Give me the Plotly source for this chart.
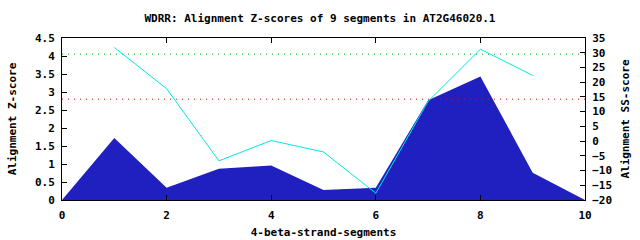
import plotly.graph_objects as go

x_seg = [0, 1, 2, 3, 4, 5, 6, 7, 8, 9, 10]
z_scores = [0, 1.72, 0.34, 0.87, 0.96, 0.28, 0.34, 2.77, 3.43, 0.76, 0]
x_ss = [1, 2, 3, 4, 5, 6, 7, 8, 9]
ss_scores = [31.8, 17.8, -6.7, 0.2, -3.7, -17.7, 13.5, 31.2, 22.3]
green_z = 4.05
red_z = 2.8
x_range = [0, 10]

FONT = "DejaVu Sans Mono"
fnt = dict(family=FONT, size=11, color="black", weight="bold")

fig = go.Figure()
fig.add_trace(go.Scatter(x=x_seg, y=z_scores, mode="lines", fill="tozeroy",
                         fillcolor="#2020C0", line=dict(width=0, color="#2020C0"),
                         showlegend=False, hoverinfo="skip"))
fig.add_trace(go.Scatter(x=x_range, y=[green_z, green_z], mode="lines",
                         line=dict(color="#00B000", width=1, dash="1px,5px"),
                         showlegend=False))
fig.add_trace(go.Scatter(x=x_range, y=[red_z, red_z], mode="lines",
                         line=dict(color="#FF0000", width=1, dash="1px,5px"),
                         showlegend=False))
fig.add_trace(go.Scatter(x=x_ss, y=ss_scores, mode="lines", yaxis="y2",
                         line=dict(color="#00E8E8", width=1),
                         showlegend=False))

fig.update_layout(
    width=640, height=240,
    margin=dict(l=62, r=55, t=38, b=40),
    paper_bgcolor="white", plot_bgcolor="white",
    font=fnt,
    title=dict(text="WDRR: Alignment Z-scores of 9 segments in AT2G46020.1",
               x=0.5, xanchor="center", y=0.925, yanchor="middle",
               font=fnt),
    xaxis=dict(range=x_range, dtick=2, tick0=0, showgrid=False, zeroline=False,
               showline=True, linecolor="black", linewidth=1, mirror="ticks",
               ticks="inside", ticklen=5, tickcolor="black",
               ticklabelstandoff=5, automargin=False,
               title=dict(text="4-beta-strand-segments", font=fnt, standoff=7),
               tickfont=fnt),
    yaxis=dict(range=[0, 4.5], dtick=0.5, tick0=0, showgrid=False, zeroline=False,
               showline=True, linecolor="black", linewidth=1, mirror=True,
               ticks="inside", ticklen=5, tickcolor="black",
               ticklabelstandoff=4, automargin=False,
               title=dict(text="Alignment Z-score", font=fnt, standoff=16),
               tickfont=fnt),
    yaxis2=dict(range=[-20, 35], dtick=5, tick0=-20, showgrid=False, zeroline=False,
                overlaying="y", side="right",
                showline=True, linecolor="black", linewidth=1,
                ticks="inside", ticklen=5, tickcolor="black",
                ticklabelstandoff=4, automargin=False,
                title=dict(text="Alignment SS-score", font=fnt, standoff=10),
                tickfont=fnt),
)

fig.write_html("out.html")
